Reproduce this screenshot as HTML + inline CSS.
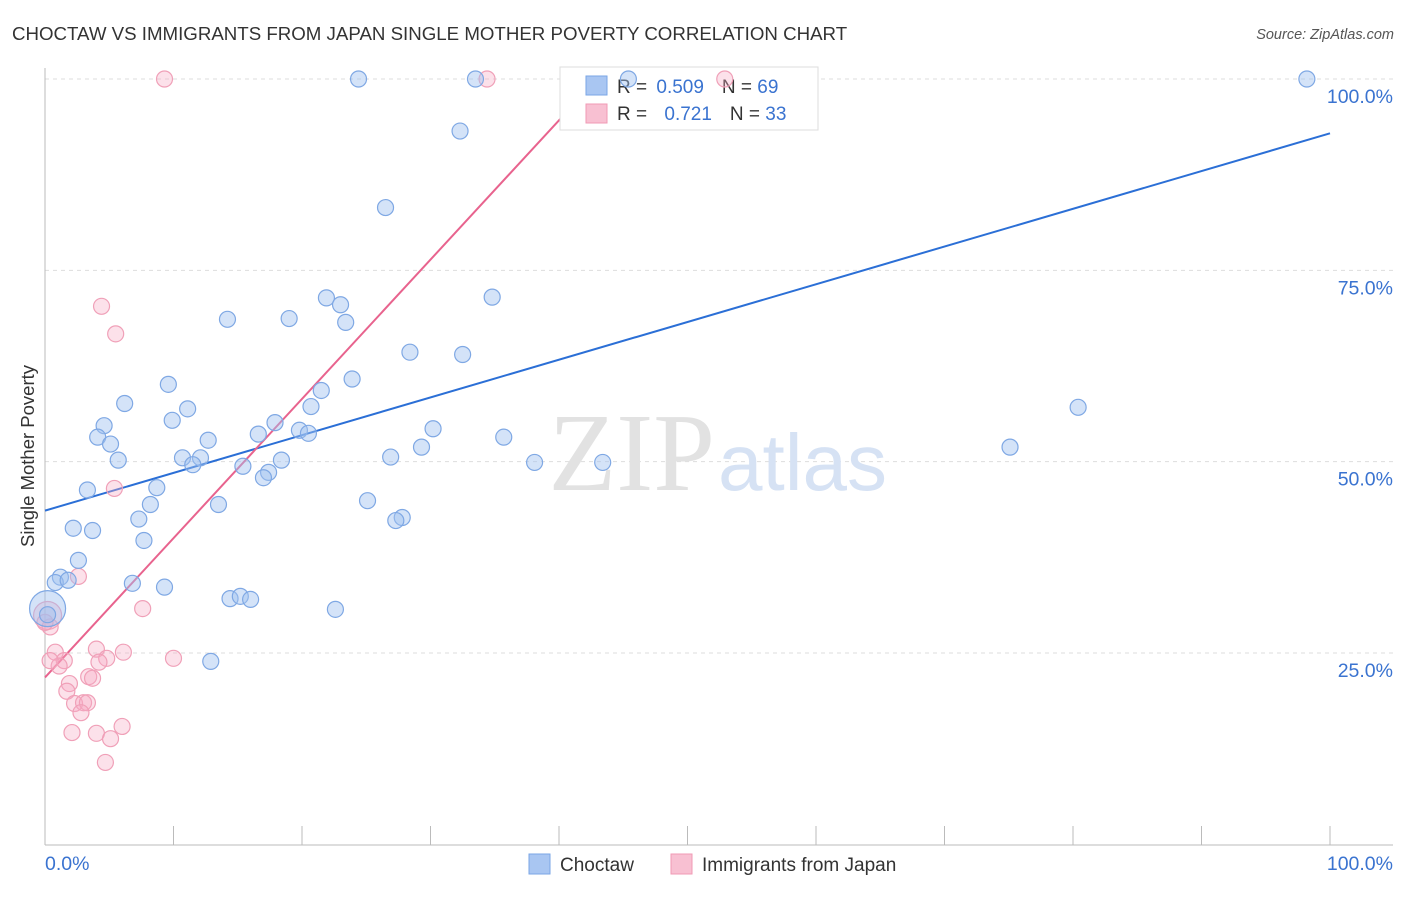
<!DOCTYPE html>
<html><head><meta charset="utf-8"><style>
body{margin:0;background:#fff;font-family:"Liberation Sans",sans-serif;}
</style></head><body>
<svg width="1406" height="892" xmlns="http://www.w3.org/2000/svg">
<text x="12" y="40" font-size="18.7" fill="#333">CHOCTAW VS IMMIGRANTS FROM JAPAN SINGLE MOTHER POVERTY CORRELATION CHART</text>
<text x="1394" y="39" font-size="14.5" fill="#555" font-style="italic" text-anchor="end">Source: ZipAtlas.com</text>
<text x="0" y="0" transform="translate(34,456) rotate(-90)" font-size="18.5" fill="#333" text-anchor="middle">Single Mother Poverty</text>
<g id="grid"></g>
<text x="715" y="490" font-size="111" font-family="Liberation Serif,serif" fill="#e2e2e2" text-anchor="end">ZIP</text>
<text x="718" y="490" font-size="80" fill="#d6e2f4">atlas</text>
<g id="lines"></g>
<g>
<rect x="560" y="67" width="258" height="63" fill="#fff" stroke="#ddd"/>
<rect x="586" y="76" width="21" height="19" fill="#a9c6f2" stroke="#7aa6e6"/>
<rect x="586" y="104" width="21" height="19" fill="#f8c0d2" stroke="#f09ab4"/>
<text x="617" y="93" font-size="19" fill="#333">R = <tspan fill="#3a73d0" dx="4">0.509</tspan><tspan fill="#333" dx="18">N = </tspan><tspan fill="#3a73d0">69</tspan></text>
<text x="617" y="120" font-size="19" fill="#333">R = <tspan fill="#3a73d0" dx="12">0.721</tspan><tspan fill="#333" dx="18">N = </tspan><tspan fill="#3a73d0">33</tspan></text>
</g>
<g id="marks"></g>
<rect x="529" y="854" width="21" height="20" fill="#a9c6f2" stroke="#7aa6e6"/>
<text x="560" y="871" font-size="19" fill="#333">Choctaw</text>
<rect x="671" y="854" width="21" height="20" fill="#f8c0d2" stroke="#f09ab4"/>
<text x="702" y="871" font-size="19" fill="#333">Immigrants from Japan</text>
<text x="45" y="870" font-size="19.5" fill="#3a73d0">0.0%</text>
<text x="1393" y="870" font-size="19.5" fill="#3a73d0" text-anchor="end">100.0%</text>
</svg>
<script>
const yTicks=[100,75,50,25];
const yTickLabels=["100.0%","75.0%","50.0%","25.0%"];
const choctawX=[24.4,33.5,45.4,98.2,32.3,26.5,34.8,21.9,23.0,14.2,19.0,23.4,28.4,32.5,23.9,9.6,21.5,6.2,11.1,20.7,9.9,17.9,4.6,4.1,12.7,16.6,19.8,20.5,30.2,35.7,5.1,5.7,10.7,12.1,11.5,15.4,18.4,26.9,29.3,38.1,43.4,75.1,80.4,17.4,17.0,8.7,3.3,8.2,13.5,25.1,7.3,27.8,27.3,2.2,3.7,7.7,2.6,1.2,0.8,1.8,6.8,9.3,14.4,15.2,16.0,22.6,12.9,0.2,0.2];
const choctawY=[100,100,100,100,93.2,83.2,71.5,71.4,70.5,68.6,68.7,68.2,64.3,64.0,60.8,60.1,59.3,57.6,56.9,57.2,55.4,55.1,54.7,53.2,52.8,53.6,54.1,53.7,54.3,53.2,52.3,50.2,50.5,50.5,49.6,49.4,50.2,50.6,51.9,49.9,49.9,51.9,57.1,48.6,47.9,46.6,46.3,44.4,44.4,44.9,42.5,42.7,42.3,41.3,41.0,39.7,37.1,34.9,34.2,34.5,34.1,33.6,32.1,32.4,32.0,30.7,23.9,30.8,30.0];
const japanX=[9.3,34.4,52.9,4.4,5.5,5.4,2.6,7.6,0.2,0.4,0.8,4.0,6.1,10.0,1.5,4.8,1.1,4.2,3.4,3.7,1.9,1.7,2.3,3.0,3.3,2.8,2.1,4.0,5.1,6.0,4.7,0.0,0.4];
const japanY=[100,100,100,70.3,66.7,46.5,35.0,30.8,29.9,28.4,25.1,25.5,25.1,24.3,24.0,24.3,23.3,23.8,21.9,21.7,21.0,20.0,18.4,18.5,18.5,17.2,14.6,14.5,13.8,15.4,10.7,29.0,24.0];
const choctawTrend=[43.6,92.9]; // y at x=0 and x=100
const japanTrend=[21.8,1.82];   // intercept, slope
const X0=45,X1=1330,Y100=79,PX=7.653;
const xs=v=>X0+(X1-X0)*v/100, ys=v=>Y100+(100-v)*PX;
const NS="http://www.w3.org/2000/svg";
function mk(t,a,p){const e=document.createElementNS(NS,t);for(const k in a)e.setAttribute(k,a[k]);p.appendChild(e);return e;}
const g=document.getElementById('grid'),m=document.getElementById('marks'),ln=document.getElementById('lines');
yTicks.forEach((t,i)=>{
 const l=mk('line',{x1:45,x2:1393,y1:ys(t),y2:ys(t),stroke:'#ddd','stroke-dasharray':'4,4'},g);
 
 
 const tx=mk('text',{x:1393,y:ys(t)+24,'font-size':19.5,fill:'#3a73d0','text-anchor':'end'},g);tx.textContent=yTickLabels[i];
 
 
});
const ax=mk('line',{x1:45,x2:1393,y1:845,y2:845,stroke:'#bbb'},g);


const ay=mk('line',{x1:45,x2:45,y1:68,y2:845,stroke:'#bbb'},g);


for(let i=0;i<=10;i++){const t=mk('line',{x1:xs(i*10),x2:xs(i*10),y1:826,y2:845,stroke:'#bbb'},g);
 
 }
japanX.forEach((x,i)=>{const r=(i==8)?14:8;const c=mk('circle',{cx:xs(x),cy:ys(japanY[i]),r:r,fill:'rgba(246,170,196,0.35)',stroke:'#f0a0b8','stroke-width':1.2},m);
 
 });
choctawX.forEach((x,i)=>{const r=(i==67)?18:8;const c=mk('circle',{cx:xs(x),cy:ys(choctawY[i]),r:r,fill:'rgba(160,192,240,0.45)',stroke:'#7fa8e4','stroke-width':1.2},m);
 
 });
const bl=mk('line',{x1:xs(0),y1:ys(choctawTrend[0]),x2:xs(100),y2:ys(choctawTrend[1]),stroke:'#2b6fd6','stroke-width':2},ln);


const xe=(101-japanTrend[0])/japanTrend[1];
const pl=mk('line',{x1:xs(0),y1:ys(japanTrend[0]),x2:xs(xe),y2:ys(japanTrend[0]+japanTrend[1]*xe),stroke:'#e8638e','stroke-width':2},ln);


</script>
</body></html>
